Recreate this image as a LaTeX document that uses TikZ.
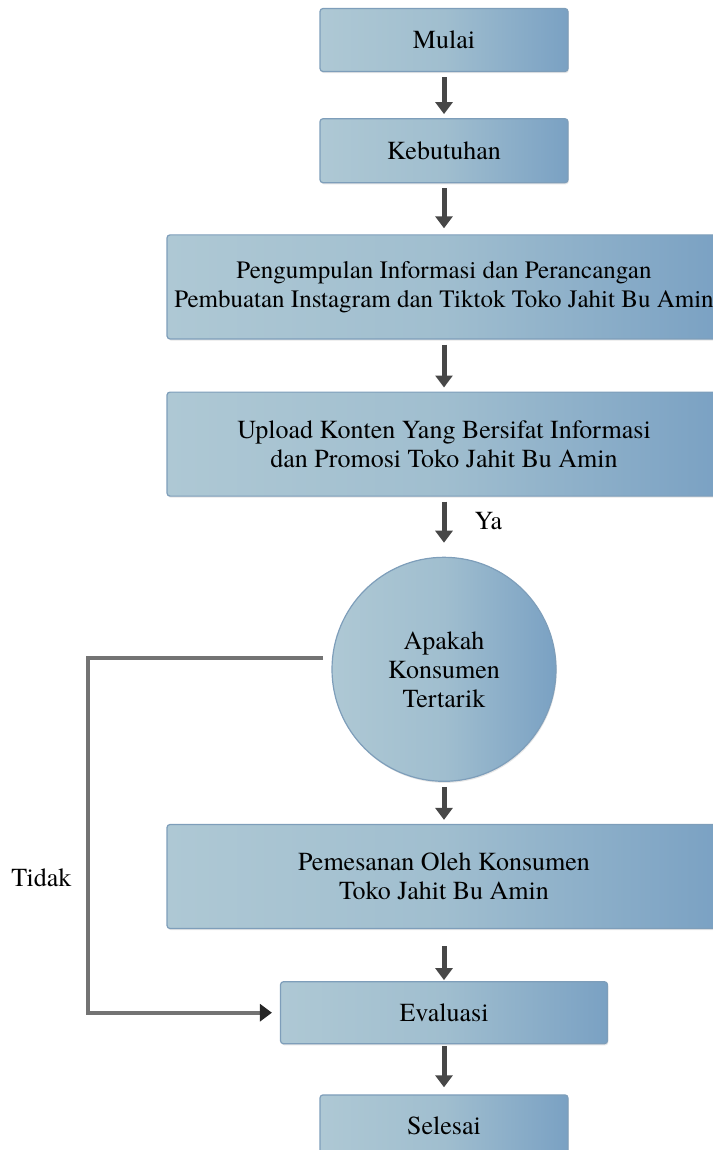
\documentclass[tikz,border=0pt]{standalone}
\usepackage{fontspec}
\setmainfont{texgyretermes}[Extension=.otf, UprightFont=*-regular, BoldFont=*-bold, ItalicFont=*-italic, BoldItalicFont=*-bolditalic]
\usepackage{tikz}
\usetikzlibrary{shapes,arrows.meta,positioning,shadows}
\definecolor{boxleft}{RGB}{174,200,212}
\definecolor{boxmid}{RGB}{160,190,207}
\definecolor{boxright}{RGB}{122,161,195}
\definecolor{boxedge}{RGB}{126,158,186}
\tikzstyle{block} = [draw=boxedge, line width=0.6pt, rectangle, rounded corners=1.5pt, left color=boxleft, right color=boxright, middle color=boxmid, align=center, font=\fontsize{13}{14.5}\selectfont, drop shadow={shadow xshift=0.4pt, shadow yshift=-0.8pt, opacity=0.2}]
\tikzstyle{small} = [block, minimum width=124pt, minimum height=31.5pt]
\tikzstyle{wide} = [block, minimum width=277pt, minimum height=52pt, inner sep=2pt]
\tikzstyle{decision} = [block, circle, minimum size=112pt, inner sep=0pt]
\tikzstyle{flow} = [line width=2.5pt, draw=black!72, -{Triangle[width=8.5pt,length=6pt]}, shorten <=2.5pt, shorten >=2pt]
\tikzstyle{tidak} = [line width=2pt, draw=black!55, -{Triangle[width=8.5pt,length=6pt,color=black!85]}]
\tikzstyle{note} = [inner sep=0pt, font=\fontsize{13}{14.5}\selectfont]

\begin{document}
\begin{tikzpicture}[node distance=25pt]
    \useasboundingbox (0,0) rectangle (356pt,-575pt);
    % The blocks, from top to bottom
    \node [small] (mulai) at (222pt,-20pt) {Mulai};
    \node [small, below=23pt of mulai, minimum height=32pt] (kebutuhan) {Kebutuhan};
    \node [wide, below=25.5pt of kebutuhan, font=\fontsize{12.5}{14.5}\selectfont] (kumpul) {Pengumpulan Informasi dan Perancangan\\Pembuatan Instagram dan Tiktok Toko Jahit Bu Amin};
    \node [wide, below=26pt of kumpul] (upload) {Upload Konten Yang Bersifat Informasi\\dan Promosi Toko Jahit Bu Amin};
    \node [decision, below=30pt of upload] (cek) {Apakah\\Konsumen\\Tertarik};
    \node [wide, below=21pt of cek] (pesan) {Pemesanan Oleh Konsumen\\Toko Jahit Bu Amin};
    \node [small, below=26pt of pesan, minimum width=163.5pt, minimum height=31pt] (evaluasi) {Evaluasi};
    \node [small, below=25pt of evaluasi, minimum height=31pt] (selesai) {Selesai};

    % Then the arrows between them
    \draw [flow] (mulai.south) -- (kebutuhan.north);
    \draw [flow, shorten >=3pt] (kebutuhan.south) -- (kumpul.north);
    \draw [flow] (kumpul.south) -- (upload.north);
    \draw [flow, shorten >=7pt] (upload.south) -- node [note, pos=0.4, right=14pt] {Ya} (cek.north);
    \draw [flow] (cek.south) -- (pesan.north);
    \draw [flow, shorten <=8.5pt, shorten >=0.5pt] (pesan.south) -- (evaluasi.north);
    \draw [flow, shorten <=1pt, shorten >=3.5pt] (evaluasi.south) -- (selesai.north);

    % The "no" branch goes round on the left
    \draw [tidak, shorten <=4.5pt, shorten >=4pt] (cek.174) -- ++(-121.8pt,0) |- node [note, pos=0.31, left=7.5pt] {Tidak} (evaluasi.west);
\end{tikzpicture}
\end{document}
